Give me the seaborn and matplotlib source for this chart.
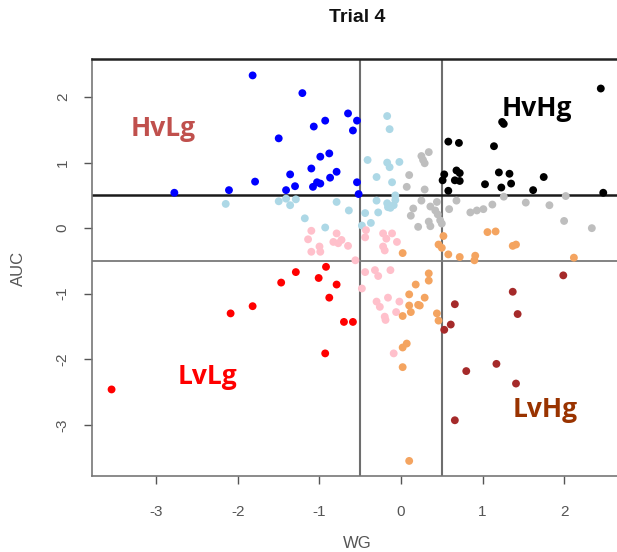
import numpy as np
import pandas as pd
import matplotlib
matplotlib.use("Agg")
import matplotlib.pyplot as plt
import seaborn as sns

# ---- data ----
blue_x = [-1.82, -1.21, -0.65, -0.54, -0.93, -1.07, -0.59, -1.50, -0.99, -0.88, -1.10, -0.79,
          -1.36, -0.87, -1.03, -0.99, -1.08, -1.79, -1.30, -1.41, -2.11, -2.78, -0.54, -0.52]
blue_y = [2.33, 2.06, 1.75, 1.64, 1.64, 1.55, 1.49, 1.37, 1.09, 1.14, 0.91, 0.86,
          0.82, 0.77, 0.70, 0.68, 0.63, 0.71, 0.64, 0.58, 0.58, 0.54, 0.70, 0.52]

lightblue_x = [-2.15, -1.50, -1.41, -1.29, -1.36, -1.18, -0.79, -0.64, -0.93, -0.17, -0.14, -0.41,
               -0.17, -0.14, -0.02, -0.30, -0.11, -0.07, -0.30, -0.17, -0.13, -0.07, -0.44, -0.28,
               -0.37, -0.48, -0.09, -0.16]
lightblue_y = [0.37, 0.41, 0.45, 0.44, 0.35, 0.15, 0.40, 0.27, 0.01, 1.71, 1.51, 1.04,
               1.00, 0.93, 1.01, 0.78, 0.70, 0.50, 0.42, 0.38, 0.31, 0.43, 0.23, 0.24,
               0.08, 0.04, 0.35, 0.32]

gray_x = [0.34, 0.25, 0.27, 0.29, 0.10, 0.07, 0.29, 0.68, 0.25, 0.15, 0.36, 0.42, 0.45, 0.59,
          0.85, 0.93, 1.01, 1.12, 1.26, 1.53, 1.82, 2.02, 2.00, 2.34, 0.12, 0.21, 0.34, 0.36,
          0.48, 0.50, 0.44]
gray_y = [1.16, 1.10, 1.04, 0.99, 0.81, 0.63, 0.59, 0.42, 0.42, 0.30, 0.33, 0.27, 0.21, 0.29,
          0.24, 0.27, 0.29, 0.36, 0.48, 0.39, 0.35, 0.49, 0.11, 0.00, 0.19, 0.02, 0.10, 0.03,
          0.12, 0.07, 0.40]

black_x = [2.45, 1.24, 1.26, 0.58, 0.71, 1.14, 0.53, 0.51, 0.68, 0.72, 0.66, 0.72, 0.58,
           1.20, 1.33, 1.03, 1.23, 1.35, 1.62, 1.75, 2.48]
black_y = [2.13, 1.62, 1.59, 1.32, 1.30, 1.25, 0.82, 0.73, 0.88, 0.84, 0.73, 0.72, 0.57,
           0.85, 0.83, 0.67, 0.62, 0.68, 0.58, 0.78, 0.54]

pink_x = [-1.10, -1.14, -1.00, -1.10, -0.99, -0.79, -0.83, -0.77, -0.73, -0.65, -0.56, -0.43,
          -0.44, -0.22, -0.11, -0.18, -0.05, -0.22, -0.20, -0.44, -0.32, -0.28, -0.13, -0.48,
          -0.30, -0.26, -0.16, -0.02, -0.20, -0.19, -0.06, -0.09]
pink_y = [-0.04, -0.17, -0.28, -0.36, -0.36, -0.08, -0.21, -0.23, -0.18, -0.27, -0.49, -0.03,
          -0.14, -0.08, -0.08, -0.16, -0.21, -0.28, -0.34, -0.67, -0.64, -0.73, -0.64, -0.92,
          -1.12, -1.20, -1.06, -1.12, -1.35, -1.40, -1.28, -1.91]

orange_x = [0.52, 0.46, 0.50, 0.02, 0.58, 0.72, 0.91, 0.90, 1.06, 1.16, 1.37, 1.41, 2.12,
            0.34, 0.34, 0.18, 0.10, 0.29, 0.10, 0.12, 0.21, 0.23, 0.02, 0.44, 0.46, 0.02,
            0.07, 0.02, 0.10]
orange_y = [-0.12, -0.25, -0.30, -0.38, -0.40, -0.44, -0.42, -0.49, -0.06, -0.05, -0.27, -0.25, -0.45,
            -0.69, -0.80, -0.86, -1.01, -1.06, -1.18, -1.28, -1.17, -1.18, -1.34, -1.30, -1.41, -1.82,
            -1.76, -2.12, -3.55]

darkred_x = [1.99, 1.37, 1.43, 0.66, 0.61, 0.53, 1.17, 0.80, 1.41, 0.66]
darkred_y = [-0.72, -0.97, -1.31, -1.16, -1.47, -1.55, -2.07, -2.18, -2.37, -2.93]

red_x = [-0.92, -1.29, -1.01, -1.47, -0.79, -0.88, -1.82, -2.09, -0.70, -0.59, -0.93, -3.55]
red_y = [-0.59, -0.67, -0.76, -0.83, -0.86, -1.06, -1.19, -1.30, -1.43, -1.43, -1.91, -2.46]

group_names = ["blue", "lightblue", "gray", "black", "pink", "orange", "darkred", "red"]
group_colors = ["#0000FF", "#ADD8E6", "#BEBEBE", "#000000", "#FFC0CB", "#F4A460", "#A52A2A", "#FF0000"]

quadrant_labels = ["HvLg", "HvHg", "LvLg", "LvHg"]
quadrant_label_x = [-2.92, 1.67, -2.38, 1.77]
quadrant_label_y = [1.52, 1.83, -2.27, -2.76]
quadrant_label_colors = ["#C0504D", "#000000", "#FF0000", "#993300"]

x_ticks = [-3, -2, -1, 0, 1, 2]
y_ticks = [-3, -2, -1, 0, 1, 2]
cut_lo, cut_hi = -0.5, 0.5

# ---- build table ----
xs = [blue_x, lightblue_x, gray_x, black_x, pink_x, orange_x, darkred_x, red_x]
ys = [blue_y, lightblue_y, gray_y, black_y, pink_y, orange_y, darkred_y, red_y]
frames = []
for name, gx, gy in zip(group_names, xs, ys):
    frames.append(pd.DataFrame({"WG": gx, "AUC": gy, "group": name}))
df = pd.concat(frames, ignore_index=True)

sns.set_style("white")
plt.rcParams["font.family"] = ["Liberation Sans", "DejaVu Sans"]

fig = plt.figure(figsize=(6.17, 5.52), dpi=100)
ax = fig.add_axes([0.1491, 0.1377, 0.859, 0.7554])

sns.scatterplot(data=df, x="WG", y="AUC", hue="group", hue_order=group_names,
                palette=dict(zip(group_names, group_colors)), s=32, linewidth=0,
                legend=False, ax=ax, zorder=3)

ax.set_xlim(-3.79, 2.71)
ax.set_ylim(-3.78, 2.58)

ax.axvline(cut_lo, color="#6e6e6e", lw=1.5, zorder=2)
ax.axvline(cut_hi, color="#6e6e6e", lw=1.5, zorder=2)
ax.axhline(cut_hi, color="#1a1a1a", lw=1.8, zorder=2)
ax.axhline(cut_lo, color="#7a7a7a", lw=1.3, zorder=2)

for t, lx, ly, c in zip(quadrant_labels, quadrant_label_x, quadrant_label_y, quadrant_label_colors):
    ax.text(lx, ly, t, color=c, fontsize=19, fontweight="bold",
            family=["Open Sans", "DejaVu Sans"], ha="center", va="center", zorder=4)

ax.set_xticks(x_ticks)
ax.set_yticks(y_ticks)
ax.set_xticklabels([str(v) for v in x_ticks], color="#555555", fontsize=11)
ax.set_yticklabels([str(v) for v in y_ticks], color="#555555", fontsize=11,
                   rotation=90, va="center")
ax.tick_params(axis="both", direction="out", length=6, width=1, color="#555555",
               bottom=True, left=True)
ax.tick_params(axis="x", pad=15)
ax.tick_params(axis="y", pad=10)

for side in ["left", "bottom", "right"]:
    ax.spines[side].set_color("#777777")
    ax.spines[side].set_linewidth(1.2)
ax.spines["top"].set_color("#222222")
ax.spines["top"].set_linewidth(1.8)

ax.set_xlabel("")
ax.set_ylabel("")
fig.text(357 / 617, 1 - 543 / 552, "WG", color="#555555", fontsize=12, ha="center", va="center")
fig.text(18 / 617, 1 - 268 / 552, "AUC", color="#555555", fontsize=12, ha="center", va="center",
         rotation=90)
fig.text(357 / 617, 1 - 18 / 552, "Trial 4", color="#111111", fontsize=14, fontweight="bold",
         ha="center", va="center")

fig.savefig("out.png", dpi=100, facecolor="white")
